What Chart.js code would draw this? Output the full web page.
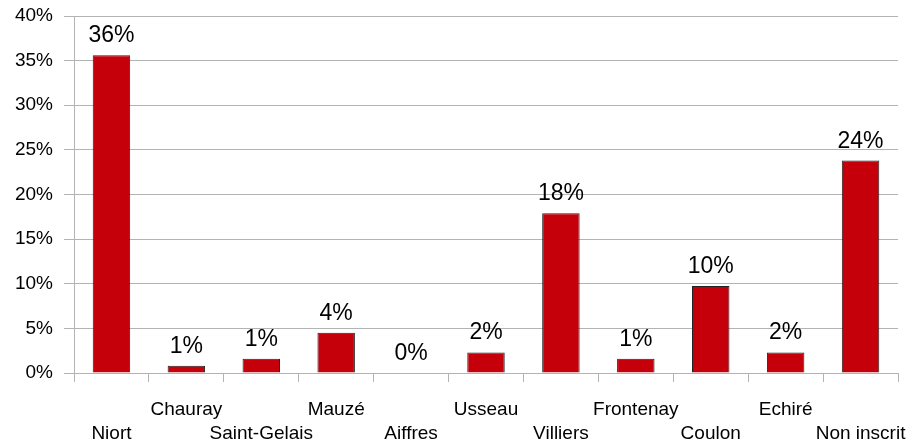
<!DOCTYPE html>
<html>
<head>
<meta charset="utf-8">
<script src="https://cdn.jsdelivr.net/npm/chart.js@4.4.0/dist/chart.umd.min.js"></script>
<style>
  html, body { margin: 0; padding: 0; background: #fff; }
  #wrap { width: 913px; height: 446px; }
</style>
</head>
<body>
<div id="wrap"><canvas id="chart" width="913" height="446"></canvas></div>
<script>
// categories and values
const communes = ['Niort', 'Chauray', 'Saint-Gelais', 'Mauzé', 'Aiffres', 'Usseau',
  'Villiers', 'Frontenay', 'Coulon', 'Echiré', 'Non inscrit'];
const shares = [35.6, 0.8, 1.6, 4.5, 0, 2.3, 17.9, 1.6, 9.75, 2.3, 23.8];
const shareLabels = ['36%', '1%', '1%', '4%', '0%', '2%', '18%', '1%', '10%', '2%', '24%'];

const gridGray = '#b3b3b3';
const fontFam = '"Liberation Sans", Arial, sans-serif';

// draws the value text above each bar
const valueLabels = {
  id: 'valueLabels',
  afterDatasetsDraw(chart) {
    const ctx = chart.ctx;
    const meta = chart.getDatasetMeta(0);
    ctx.save();
    ctx.font = '23px ' + fontFam;
    ctx.fillStyle = '#000';
    ctx.textAlign = 'center';
    ctx.textBaseline = 'alphabetic';
    meta.data.forEach((bar, i) => {
      ctx.fillText(shareLabels[i], bar.x, bar.y - 13);
    });
    ctx.restore();
  }
};

new Chart(document.getElementById('chart').getContext('2d'), {
  type: 'bar',
  data: {
    labels: communes,
    datasets: [{
      data: shares,
      backgroundColor: '#c5000b',
      borderColor: '#222',
      borderWidth: 1,
      barPercentage: 0.5,
      categoryPercentage: 1
    }]
  },
  options: {
    responsive: false,
    animation: false,
    layout: { padding: { top: 16, right: 15, left: 0, bottom: 0 } },
    plugins: { legend: { display: false }, tooltip: { enabled: false } },
    scales: {
      x: {
        offset: true,
        afterFit: s => { s.height = 73; s.paddingLeft = 0; s.paddingRight = 0; },
        grid: {
          offset: true,
          color: c => (c.index === 0 || c.index === communes.length) ? gridGray : 'rgba(0,0,0,0)',
          tickColor: gridGray,
          tickLength: 9
        },
        border: { display: false },
        ticks: {
          autoSkip: false,
          maxRotation: 0,
          padding: 16,
          color: '#000',
          font: { family: fontFam, size: 19, lineHeight: 1.26 },
          callback: (v, i) => i % 2 === 0 ? ['', communes[i]] : [communes[i], '']
        }
      },
      y: {
        min: 0,
        max: 40,
        afterFit: s => { s.width = 74; s.paddingTop = 0; s.paddingBottom = 0; },
        grid: { color: gridGray, tickColor: gridGray, tickLength: 10 },
        border: { display: false },
        ticks: {
          stepSize: 5,
          padding: 11,
          color: '#000',
          font: { family: fontFam, size: 19 },
          callback: v => v + '%'
        }
      }
    }
  },
  plugins: [valueLabels]
});
</script>
</body>
</html>
